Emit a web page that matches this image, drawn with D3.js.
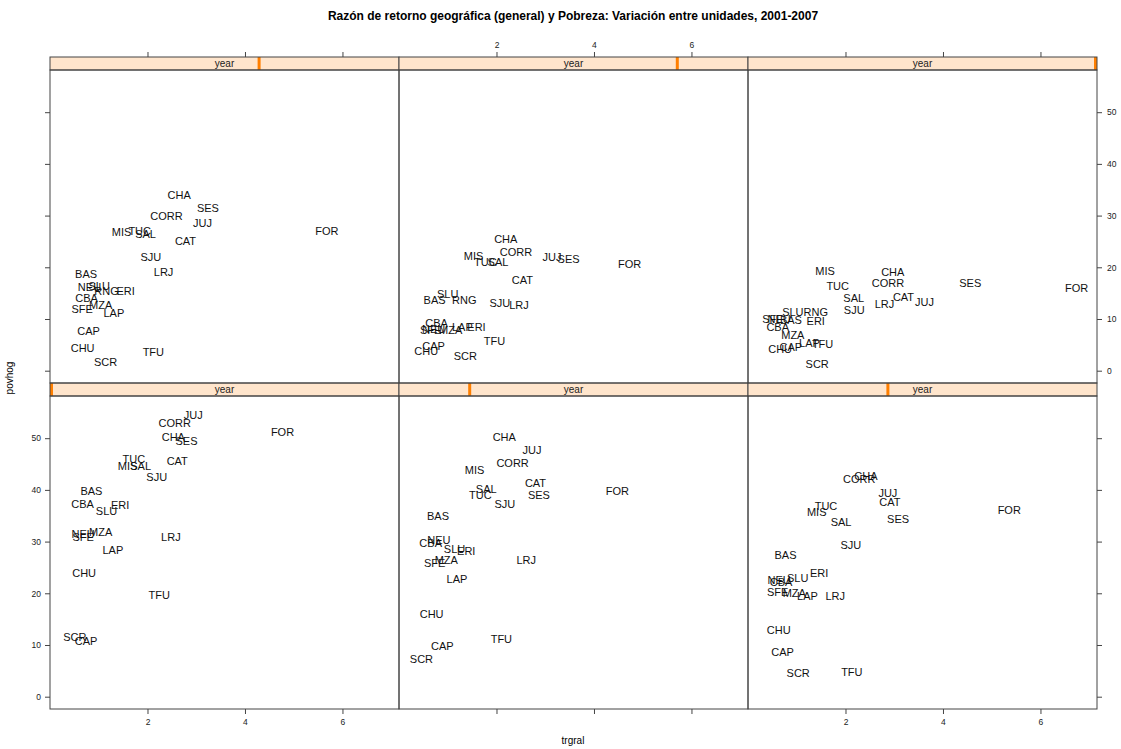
<!DOCTYPE html>
<html>
<head>
<meta charset="utf-8">
<script src="https://cdn.jsdelivr.net/npm/d3@7"></script>
<style>
  body { margin: 0; background: #fff; }
  text { font-family: "Liberation Sans", Arial, sans-serif; }
</style>
</head>
<body>
<svg id="chart"></svg>
<script>
var width = 1121, height = 749;

// units (provinces) - same order in every series
var units = ["BAS","CAP","CAT","CBA","CHA","CHU","CORR","ERI","FOR","JUJ","LAP","LRJ",
             "MIS","MZA","NEU","RNG","SAL","SCR","SES","SFE","SJU","SLU","TFU","TUC"];

var years = [2002, 2003, 2004, 2005, 2006, 2007];

// trgral / povhog per year (null = missing)
var trgral2002 = [0.85,0.74,2.61,0.67,2.53,0.70,2.56,1.44,4.77,2.94,1.29,2.48,1.59,1.04,0.68,null,1.86,0.51,2.80,0.68,2.19,1.16,2.24,1.72];
var povhog2002 = [39.8,10.8,45.5,37.2,50.2,23.8,53.0,37.0,51.1,54.5,28.3,30.8,44.5,31.8,31.5,null,44.5,11.5,49.4,30.9,42.4,35.9,19.6,46.0];

var trgral2003 = [0.80,0.89,2.80,0.65,2.16,0.67,2.33,1.38,4.48,2.73,1.19,2.61,1.55,0.97,0.82,null,1.79,0.46,2.87,0.73,2.17,1.14,2.10,1.67];
var povhog2003 = [34.9,9.8,41.4,29.7,50.2,15.9,45.1,28.2,39.8,47.6,22.7,26.4,43.8,26.4,30.2,null,40.2,7.2,39.0,25.8,37.2,28.5,11.1,39.0];

var trgral2004 = [0.77,0.71,2.91,0.68,2.42,0.63,2.28,1.46,5.36,2.87,1.22,1.79,1.41,0.95,0.64,null,1.91,1.03,3.08,0.61,2.11,1.02,2.13,1.60];
var povhog2004 = [27.3,8.6,37.6,22.2,42.7,12.9,42.0,23.9,36.1,39.3,19.5,19.5,35.6,20.0,22.6,null,33.8,4.6,34.3,20.3,29.3,22.9,4.8,36.9];

var trgral2005 = [0.74,0.79,2.78,0.75,2.65,0.67,2.39,1.55,5.68,3.13,1.31,2.33,1.47,1.04,0.81,1.16,1.96,1.14,3.24,0.66,2.07,1.01,2.12,1.84];
var povhog2005 = [18.6,7.6,25.1,14.1,34.0,4.3,29.8,15.4,26.9,28.5,11.1,19.1,26.8,12.7,16.2,15.3,26.4,1.7,31.4,11.9,21.9,16.4,3.5,26.9];

var trgral2006 = [0.73,0.71,2.53,0.77,2.19,0.56,2.40,1.59,4.73,3.14,1.30,2.46,1.53,1.06,0.71,1.34,2.03,1.36,3.48,0.65,2.07,1.00,1.96,1.77];
var povhog2006 = [13.7,4.7,17.5,9.1,25.4,3.7,22.9,8.4,20.6,21.9,8.5,12.6,22.1,7.9,8.1,13.7,20.9,2.8,21.5,7.9,13.1,14.8,5.8,20.9];

var trgral2007 = [0.88,0.88,3.19,0.61,2.97,0.66,2.87,1.39,6.74,3.62,1.26,2.80,1.58,0.92,0.64,1.39,2.17,1.42,4.56,0.51,2.18,0.92,1.53,1.84];
var povhog2007 = [9.7,4.5,14.2,8.5,19.1,4.1,17.0,9.5,16.0,13.2,5.4,12.8,19.3,6.9,9.9,11.3,14.0,1.2,17.0,9.9,11.7,11.3,5.2,16.3];

var trgralByYear = [trgral2002, trgral2003, trgral2004, trgral2005, trgral2006, trgral2007];
var povhogByYear = [povhog2002, povhog2003, povhog2004, povhog2005, povhog2006, povhog2007];

var xTicks = [2, 4, 6];
var yTicks = [0, 10, 20, 30, 40, 50];

var left = 50, right = 1097, colW = (right - left) / 3;
var stripH = 13, panelH = 313;
var rowTop = [57, 383];   // strip top for top row / bottom row
var axisCol = "#444";

var svg = d3.select("#chart").attr("width", width).attr("height", height);

// lattice fills panels from bottom-left
var panels = years.map(function (yr, i) {
  return { i: i, year: yr, col: i % 3, row: i < 3 ? 1 : 0 };
});

var yearPos = d3.scaleLinear().domain(d3.extent(years));

panels.forEach(function (p) {
  var x0 = left + p.col * colW;
  var sTop = rowTop[p.row];
  var pTop = sTop + stripH;
  var x = d3.scaleLinear().domain([0, 7.16]).range([x0, x0 + colW]);
  var y = d3.scaleLinear().domain([-2.38, 58.16]).range([pTop + panelH, pTop]);
  var g = svg.append("g");

  // strip
  g.append("rect").attr("x", x0).attr("y", sTop).attr("width", colW).attr("height", stripH)
    .attr("fill", "#ffe5cc");
  yearPos.range([x0 + 1.5, x0 + colW - 1.5]);
  g.append("rect").attr("x", yearPos(p.year) - 1.5).attr("y", sTop).attr("width", 3).attr("height", stripH)
    .attr("fill", "#ff7f00");
  g.append("text").attr("x", x0 + colW / 2).attr("y", sTop + stripH / 2).attr("dy", "0.35em")
    .attr("text-anchor", "middle").attr("font-size", 10).attr("fill", "#222").text("year");
  g.append("rect").attr("x", x0).attr("y", sTop).attr("width", colW).attr("height", stripH)
    .attr("fill", "none").attr("stroke", axisCol);

  // panel box
  g.append("rect").attr("x", x0).attr("y", pTop).attr("width", colW).attr("height", panelH)
    .attr("fill", "none").attr("stroke", axisCol);

  // axes (alternating labels)
  var fmt = function (d) { return d; };
  var none = function () { return ""; };
  var top = p.row === 0;
  if (top) {
    g.append("g").attr("transform", "translate(0," + sTop + ")")
      .call(d3.axisTop(x).tickValues(xTicks).tickSize(5).tickPadding(4).tickFormat(p.col === 1 ? fmt : none));
    if (p.col === 0) g.append("g").attr("transform", "translate(" + x0 + ",0)")
      .call(d3.axisLeft(y).tickValues(yTicks).tickSize(5).tickFormat(none));
    if (p.col === 2) g.append("g").attr("transform", "translate(" + (x0 + colW) + ",0)")
      .call(d3.axisRight(y).tickValues(yTicks).tickSize(5).tickPadding(5).tickFormat(fmt));
  } else {
    g.append("g").attr("transform", "translate(0," + (pTop + panelH) + ")")
      .call(d3.axisBottom(x).tickValues(xTicks).tickSize(5).tickPadding(5).tickFormat(p.col === 1 ? none : fmt));
    if (p.col === 0) g.append("g").attr("transform", "translate(" + x0 + ",0)")
      .call(d3.axisLeft(y).tickValues(yTicks).tickSize(5).tickPadding(4).tickFormat(fmt));
    if (p.col === 2) g.append("g").attr("transform", "translate(" + (x0 + colW) + ",0)")
      .call(d3.axisRight(y).tickValues(yTicks).tickSize(5).tickFormat(none));
  }

  // labels
  var xs = trgralByYear[p.i], ys = povhogByYear[p.i];
  var pts = units.map(function (u, k) { return { u: u, x: xs[k], y: ys[k] }; })
    .filter(function (d) { return d.x != null && d.y != null; });
  g.selectAll("text.lab").data(pts).enter().append("text")
    .attr("class", "lab")
    .attr("x", function (d) { return x(d.x); })
    .attr("y", function (d) { return y(d.y); })
    .attr("dy", "0.35em")
    .attr("text-anchor", "middle")
    .attr("font-size", 11)
    .attr("fill", "#111")
    .text(function (d) { return d.u; });
});

svg.selectAll(".domain").remove();
svg.selectAll(".tick line").attr("stroke", axisCol);
svg.selectAll(".tick text").attr("font-size", 8.5).attr("fill", "#222")
  .attr("font-family", "'Liberation Sans', Arial, sans-serif");

// titles
svg.append("text").attr("x", 573).attr("y", 20).attr("text-anchor", "middle")
  .attr("font-size", 12).attr("font-weight", "bold")
  .text("Razón de retorno geográfica (general) y Pobreza: Variación entre unidades, 2001-2007");
svg.append("text").attr("x", 573).attr("y", 744).attr("text-anchor", "middle")
  .attr("font-size", 10).text("trgral");
svg.append("text").attr("transform", "translate(13,378) rotate(-90)").attr("text-anchor", "middle")
  .attr("font-size", 10).text("povhog");
</script>
</body>
</html>
